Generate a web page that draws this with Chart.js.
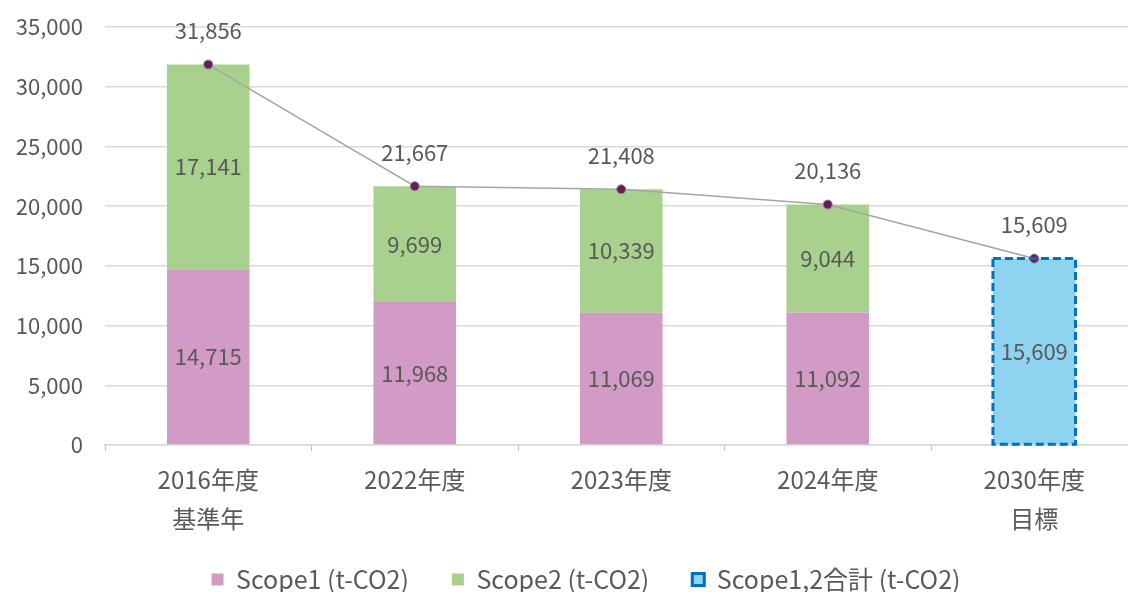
<!DOCTYPE html>
<html lang="ja">
<head>
<meta charset="utf-8">
<title>Scope1,2 排出量</title>
<script src="https://cdn.jsdelivr.net/npm/chart.js@4.4.1/dist/chart.umd.min.js"></script>
<style>
  html, body { margin: 0; padding: 0; background: #fff; overflow: hidden; }
  #wrap { width: 1143px; height: 592px; }
</style>
</head>
<body>
<div id="wrap"><canvas id="emissionsChart"></canvas></div>
<script>
// categories and values (t-CO2)
const categories = [['2016年度', '基準年'], ['2022年度'], ['2023年度'], ['2024年度'], ['2030年度', '目標']];
const scope1 = [14715, 11968, 11069, 11092, null];
const scope2 = [17141, 9699, 10339, 9044, null];
const targetTotal = [null, null, null, null, 15609];
const totals = [31856, 21667, 21408, 20136, 15609];
const yTicks = [0, 5000, 10000, 15000, 20000, 25000, 30000, 35000];

const textColor = '#595959';
const fontFamily = '"Noto Sans CJK JP", "Noto Sans", sans-serif';

function fmt(v) {
    return v.toLocaleString('en-US');
}

// value labels + dashed outline for the target bar
const labelPlugin = {
    id: 'valueLabels',
    afterLayout: function(chart) {
        // legend keeps a short layout slot, then gets a taller box for drawing
        const lg = chart.legend;
        lg.top -= 13; lg.bottom += 10;
        lg.left += 16; lg.right += 16;
    },
    afterDatasetsDraw: function(chart) {
        const ctx = chart.ctx;
        ctx.save();
        ctx.textAlign = 'center';
        ctx.textBaseline = 'middle';
        ctx.font = '22px ' + fontFamily;
        ctx.fillStyle = textColor;

        chart.data.datasets.forEach(function(ds, i) {
            const meta = chart.getDatasetMeta(i);
            meta.data.forEach(function(el, j) {
                const v = ds.data[j];
                if (v === null || v === undefined) return;
                if (ds.type === 'line') {
                    ctx.fillText(fmt(v), el.x, el.y - 34);
                } else {
                    if (ds.dashedOutline) {
                        ctx.save();
                        ctx.strokeStyle = '#0070C0';
                        ctx.lineWidth = 3;
                        ctx.setLineDash([8, 4]);
                        ctx.strokeRect(el.x - el.width / 2, el.y, el.width, el.base - el.y);
                        ctx.restore();
                    }
                    ctx.fillText(fmt(v), el.x, (el.y + el.base) / 2);
                }
            });
        });
        ctx.restore();
    }
};

const ctx = document.getElementById('emissionsChart');

new Chart(ctx, {
    type: 'bar',
    data: {
        labels: categories,
        datasets: [
            {
                type: 'line',
                label: '合計',
                data: totals,
                borderColor: '#A5A5A5',
                borderWidth: 1.5,
                pointRadius: 4.5,
                pointBackgroundColor: '#6A1B5E',
                pointBorderColor: '#8C8C8C',
                pointBorderWidth: 1,
                stack: 'line',
                order: 0
            },
            {
                label: 'Scope1 (t-CO2)',
                data: scope1,
                backgroundColor: '#D29BC5',
                stack: 'bars',
                order: 1
            },
            {
                label: 'Scope2 (t-CO2)',
                data: scope2,
                backgroundColor: '#A9D18E',
                stack: 'bars',
                order: 1
            },
            {
                label: 'Scope1,2合計 (t-CO2)',
                data: targetTotal,
                backgroundColor: '#8ED3EF',
                stack: 'bars',
                dashedOutline: true,
                order: 1
            }
        ]
    },
    options: {
        responsive: true,
        maintainAspectRatio: false,
        animation: false,
        barPercentage: 0.8,
        categoryPercentage: 0.5,
        layout: {
            padding: { left: 0, right: 3, top: 27, bottom: 0 }
        },
        scales: {
            x: {
                stacked: true,
                afterFit: function(scale) { scale.height = 92; },
                grid: {
                    offset: true,
                    drawOnChartArea: false,
                    drawTicks: true,
                    tickLength: 6,
                    color: '#BFBFBF'
                },
                border: { display: true, color: '#D9D9D9', width: 1.5 },
                ticks: {
                    color: textColor,
                    padding: 10,
                    font: { family: fontFamily, size: 24, lineHeight: 1.6 },
                    maxRotation: 0
                }
            },
            y: {
                stacked: true,
                min: 0,
                max: 35000,
                afterFit: function(scale) {
                    scale.width = 105;
                    scale.paddingTop = 0;
                    scale.paddingBottom = 0;
                },
                afterBuildTicks: function(scale) {
                    scale.ticks = yTicks.map(function(v) { return { value: v }; });
                },
                grid: {
                    color: '#D9D9D9',
                    lineWidth: 1.5,
                    drawTicks: false
                },
                border: { display: false },
                ticks: {
                    color: textColor,
                    padding: 22,
                    font: { family: fontFamily, size: 22 },
                    callback: function(value) { return fmt(value); }
                }
            }
        },
        plugins: {
            tooltip: { enabled: false },
            legend: {
                position: 'bottom',
                maxHeight: 55,
                labels: {
                    color: textColor,
                    font: { family: fontFamily, size: 25 },
                    boxWidth: 12,
                    boxHeight: 12,
                    padding: 43,
                    generateLabels: function(chart) {
                        const items = Chart.defaults.plugins.legend.labels.generateLabels(chart);
                        return items.filter(function(item) {
                            return item.datasetIndex !== 0;
                        }).map(function(item) {
                            if (item.datasetIndex === 3) {
                                item.strokeStyle = '#0070C0';
                                item.lineWidth = 3;
                            } else {
                                item.lineWidth = 0;
                            }
                            return item;
                        });
                    }
                }
            }
        }
    },
    plugins: [labelPlugin]
});
</script>
</body>
</html>
